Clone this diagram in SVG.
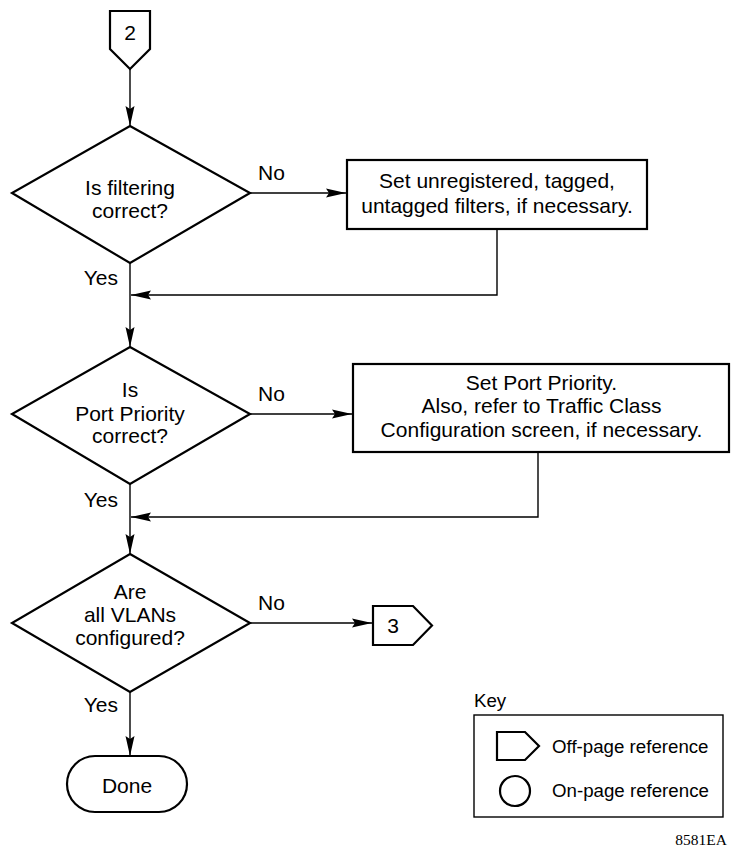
<svg xmlns="http://www.w3.org/2000/svg" width="731" height="848" viewBox="0 0 731 848">
<style>
.shape{fill:#fff;stroke:#000;stroke-width:2.2;stroke-linejoin:miter}
.conn{fill:none;stroke:#000;stroke-width:1.4}
.t{font-family:"Liberation Sans",Arial,sans-serif;font-size:21px;fill:#000;text-anchor:middle}
.lbl{font-family:"Liberation Sans",Arial,sans-serif;font-size:21px;fill:#000}
.k{font-family:"Liberation Sans",Arial,sans-serif;font-size:18.7px;fill:#000}
</style>
<defs>
<marker id="ah" markerUnits="userSpaceOnUse" markerWidth="22" markerHeight="12" viewBox="0 -6 22 12" refX="20" refY="0" orient="auto">
<path d="M0,-4.5 L20,0 L0,4.5 L3,0 z" fill="#000"/>
</marker>
</defs>
<g id="connectors">
<line class="conn" x1="130" y1="69" x2="130" y2="126" marker-end="url(#ah)"/>
<line class="conn" x1="250" y1="193" x2="346" y2="193" marker-end="url(#ah)"/>
<polyline class="conn" points="497,229 497,295 131,295" marker-end="url(#ah)"/>
<line class="conn" x1="130" y1="263" x2="130" y2="347" marker-end="url(#ah)"/>
<line class="conn" x1="250" y1="414" x2="352" y2="414" marker-end="url(#ah)"/>
<polyline class="conn" points="538,452 538,517 131,517" marker-end="url(#ah)"/>
<line class="conn" x1="130" y1="484" x2="130" y2="554" marker-end="url(#ah)"/>
<line class="conn" x1="250" y1="623" x2="372" y2="623" marker-end="url(#ah)"/>
<line class="conn" x1="130" y1="692" x2="130" y2="756" marker-end="url(#ah)"/>
<text class="lbl" x="258" y="180">No</text>
<text class="lbl" x="118" y="285" text-anchor="end">Yes</text>
<text class="lbl" x="258" y="401">No</text>
<text class="lbl" x="118" y="507" text-anchor="end">Yes</text>
<text class="lbl" x="258" y="610">No</text>
<text class="lbl" x="118" y="712" text-anchor="end">Yes</text>
</g>
<g id="ref2">
<polygon class="shape" points="110,11 150,11 150,49 130,69 110,49"/>
<text class="t" x="130" y="40">2</text>
</g>
<g id="d1">
<polygon class="shape" points="130,126 250,193 130,263 12,193"/>
<text class="t" x="130" y="195">Is filtering</text>
<text class="t" x="130" y="218">correct?</text>
</g>
<g id="b1">
<rect class="shape" x="347" y="160" width="300" height="69"/>
<text class="t" x="497" y="188">Set unregistered, tagged,</text>
<text class="t" x="497" y="213">untagged filters, if necessary.</text>
</g>
<g id="d2">
<polygon class="shape" points="130,347 250,414 130,484 12,414"/>
<text class="t" x="130" y="397">Is</text>
<text class="t" x="130" y="421">Port Priority</text>
<text class="t" x="130" y="443">correct?</text>
</g>
<g id="b2">
<rect class="shape" x="353" y="364" width="376" height="88"/>
<text class="t" x="541.5" y="390">Set Port Priority.</text>
<text class="t" x="541.5" y="413">Also, refer to Traffic Class</text>
<text class="t" x="541.5" y="437">Configuration screen, if necessary.</text>
</g>
<g id="d3">
<polygon class="shape" points="130,554 250,623 130,692 12,623"/>
<text class="t" x="130" y="599">Are</text>
<text class="t" x="130" y="622">all VLANs</text>
<text class="t" x="130" y="645">configured?</text>
</g>
<g id="ref3">
<polygon class="shape" points="373,606 413,606 432,625.5 413,645 373,645"/>
<text class="t" x="393" y="633">3</text>
</g>
<g id="done">
<rect class="shape" x="67" y="756" width="120" height="56" rx="28" ry="28"/>
<text class="t" x="127" y="793">Done</text>
</g>
<g id="key">
<text class="k" x="474" y="707">Key</text>
<rect x="474" y="715" width="249" height="102" fill="none" stroke="#000" stroke-width="1.4"/>
<polygon class="shape" points="497,732 525,732 539,746 525,760 497,760"/>
<text class="k" x="552" y="753">Off-page reference</text>
<circle class="shape" cx="515" cy="791" r="15"/>
<text class="k" x="552" y="797">On-page reference</text>
</g>
<text x="727" y="845" text-anchor="end" font-family="'Liberation Serif','Times New Roman',serif" font-size="15.5" fill="#000">8581EA</text>
</svg>
